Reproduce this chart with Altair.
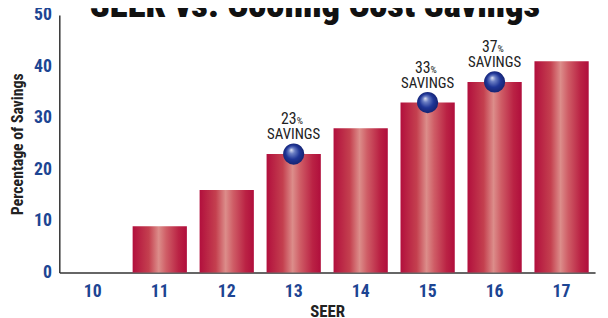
import altair as alt
import pandas as pd

seer = ["10", "11", "12", "13", "14", "15", "16", "17"]
savings = [0, 9, 16, 23, 28, 33, 37, 41]

marked_seer = ["13", "15", "16"]
marked_value = [23, 33, 37]
marked_num = ["23", "33", "37"]

df = pd.DataFrame({"SEER": seer, "Savings": savings})
dm = pd.DataFrame({"SEER": marked_seer, "Savings": marked_value, "Num": marked_num})

FONT = "Roboto Condensed"
BLUE = "#1d4593"
DARK = "#222222"

bar_grad = alt.Gradient(
    gradient="linear", x1=0, x2=1, y1=0, y2=0,
    stops=[
        alt.GradientStop(color="#b20f3d", offset=0),
        alt.GradientStop(color="#c4404f", offset=0.3),
        alt.GradientStop(color="#dc8d8a", offset=0.48),
        alt.GradientStop(color="#cf5d66", offset=0.62),
        alt.GradientStop(color="#ba2244", offset=0.85),
        alt.GradientStop(color="#b00e3c", offset=1),
    ],
)

ball_grad = alt.Gradient(
    gradient="radial", x1=0.38, y1=0.3, r1=0.0, x2=0.5, y2=0.5, r2=0.55,
    stops=[
        alt.GradientStop(color="#e6e9f6", offset=0),
        alt.GradientStop(color="#6c7fc4", offset=0.25),
        alt.GradientStop(color="#1f3596", offset=0.6),
        alt.GradientStop(color="#14206a", offset=1),
    ],
)

x = alt.X(
    "SEER:N", sort=seer,
    scale=alt.Scale(paddingInner=0.19, paddingOuter=0.095),
    axis=alt.Axis(
        title="SEER", labelAngle=0, ticks=False, labelPadding=10,
        labelFont=FONT, labelFontSize=18, labelFontWeight="bold", labelColor=BLUE,
        titleFont=FONT, titleFontSize=17, titleFontWeight="bold", titleColor=DARK,
        titlePadding=4, domainColor="#333333", domainWidth=1.5,
    ),
)
y = alt.Y(
    "Savings:Q",
    scale=alt.Scale(domain=[0, 50], nice=False),
    axis=alt.Axis(
        title="Percentage of Savings", values=[0, 10, 20, 30, 40, 50],
        ticks=False, grid=False, labelPadding=8,
        labelFont=FONT, labelFontSize=18, labelFontWeight="bold", labelColor=BLUE,
        titleFont=FONT, titleFontSize=16, titleFontWeight="bold", titleColor=DARK,
        titlePadding=8, domainColor="#333333", domainWidth=1.5,
    ),
)

xs = alt.X("SEER:N", sort=seer)

bars = alt.Chart(df).mark_bar(color=bar_grad).encode(x=x, y=y)

balls = alt.Chart(dm).mark_point(
    shape="circle", filled=True, fill=ball_grad, size=460, opacity=1, strokeWidth=0
).encode(x=xs, y="Savings:Q")

lbl_savings = alt.Chart(dm).mark_text(
    text="SAVINGS", font=FONT, fontSize=15, color=DARK, baseline="alphabetic", dy=-15
).encode(x=xs, y="Savings:Q")

lbl_num = alt.Chart(dm).mark_text(
    font=FONT, fontSize=16, color=DARK, baseline="alphabetic", align="right", dx=3, dy=-30
).encode(x=xs, y="Savings:Q", text="Num:N")

lbl_pct = alt.Chart(dm).mark_text(
    text="%", font=FONT, fontSize=10, color=DARK, baseline="alphabetic", align="left", dx=3, dy=-30
).encode(x=xs, y="Savings:Q")

title_df = pd.DataFrame({"t": ["SEER vs. Cooling Cost Savings"]})
title = alt.Chart(title_df).mark_text(
    font=FONT, fontSize=37, fontWeight=900, color="#111111", baseline="alphabetic"
).encode(text="t:N", x=alt.value(259), y=alt.value(2))

chart = alt.layer(bars, balls, lbl_savings, lbl_num, lbl_pct, title).properties(
    width=543, height=261,
    autosize=alt.AutoSizeParams(type="none"),
    padding={"left": 52, "top": 5, "right": 5, "bottom": 44},
).configure_view(stroke=None)

chart.save("out.html", embed_options={"renderer": "svg", "actions": False})
